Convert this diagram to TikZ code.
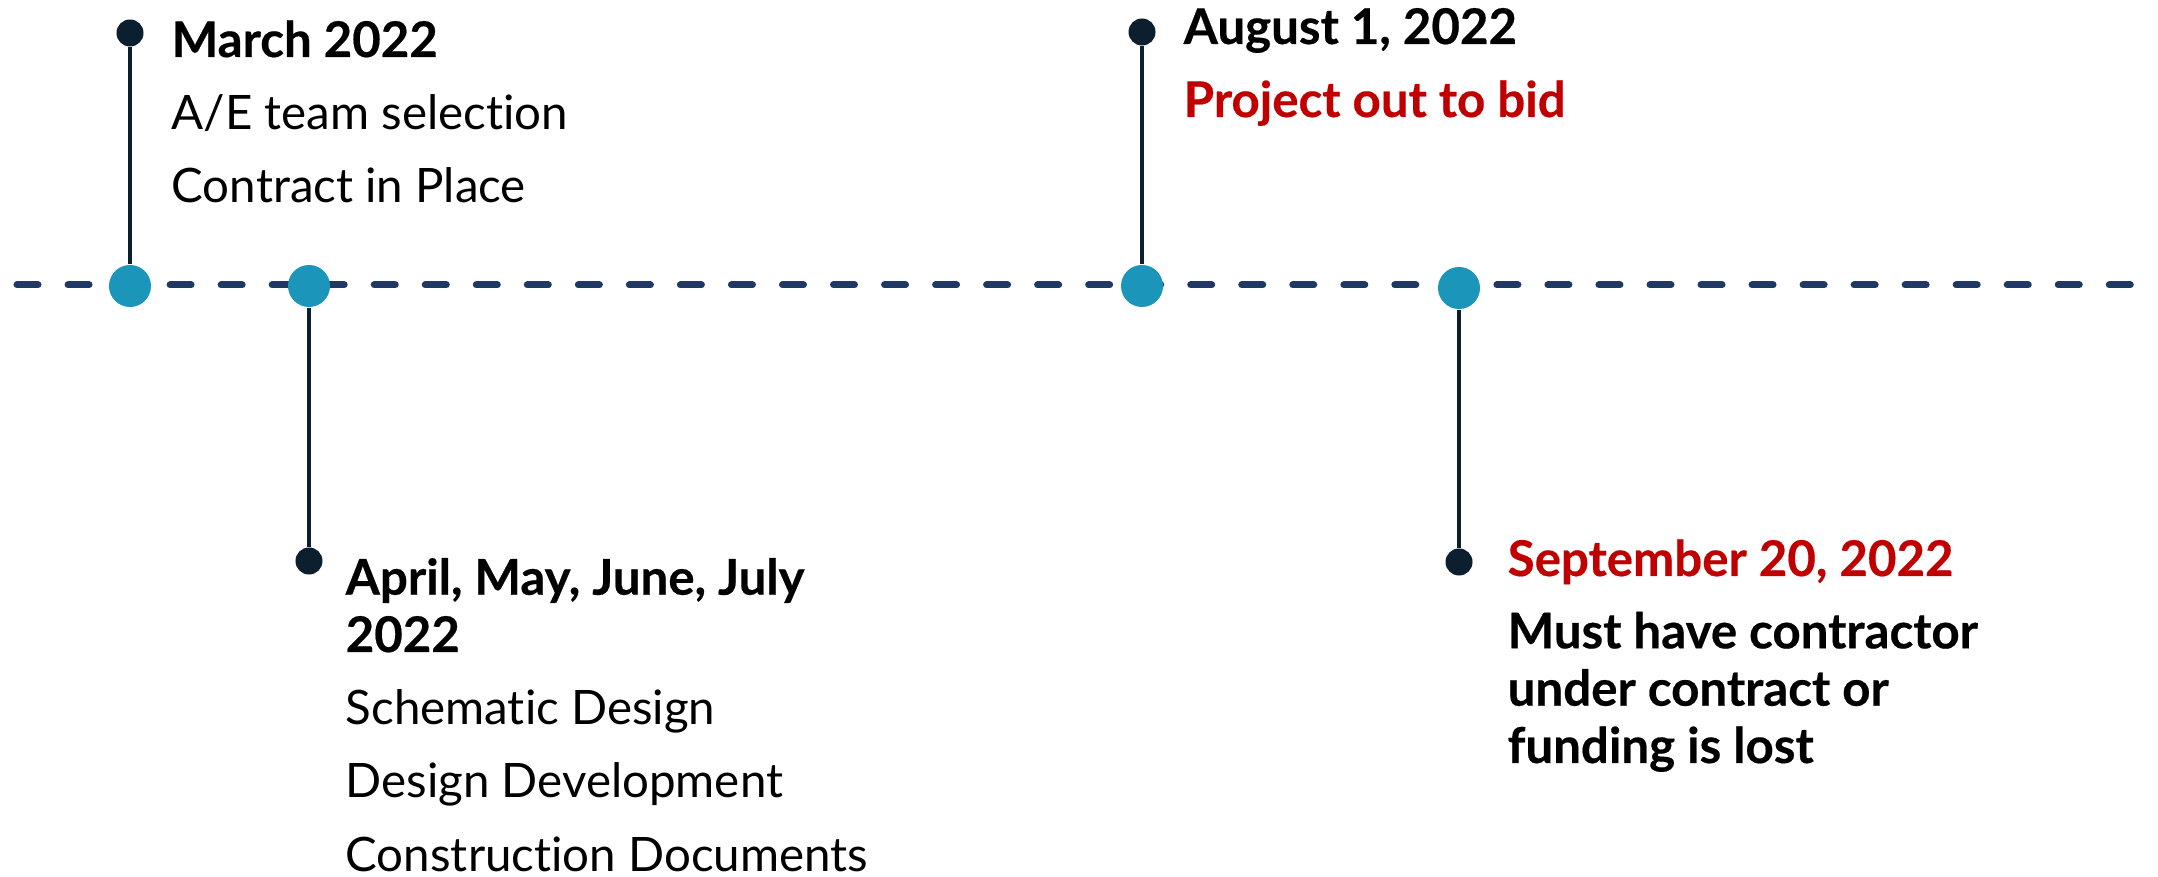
\documentclass[tikz,border=0pt]{standalone}
\usepackage{fontspec}
\setmainfont{Lato}[Ligatures=NoCommon, BoldFeatures={FakeBold=0.4}]
\usetikzlibrary{positioning}
\definecolor{tlnavy}{HTML}{1F3864}
\definecolor{tlteal}{HTML}{1B96BA}
\definecolor{tlink}{HTML}{0B1F2E}
\definecolor{tlred}{HTML}{C00000}
\tikzset{
  milestone/.style={
    circle,
    fill=tlteal,
    inner sep=0pt,
    minimum size=0.42cm
  },
  pin/.style={
    circle,
    fill=tlink,
    inner sep=0pt,
    minimum size=0.27cm
  },
  stem/.style={
    draw=tlink,
    line width=0.04cm
  },
  timeline/.style={
    draw=tlnavy,
    line width=0.07cm,
    line cap=round,
    dash pattern=on 0.21cm off 0.30cm
  },
  headtext/.style={
    anchor=base west,
    inner sep=0pt,
    align=left,
    font=\fontsize{14}{16.3}\selectfont\bfseries
  },
  bodytext/.style={
    anchor=base west,
    inner sep=0pt,
    align=left,
    font=\fontsize{13.5}{20.8}\selectfont
  }
}

\begin{document}
\begin{tikzpicture}[x=0.01cm, y=-0.01cm]
\useasboundingbox (0,0) rectangle (2158,877);
\coordinate (tlstart) at (17,285);
\coordinate (tlend) at (2158,285);
\draw[timeline] (tlstart) -- (tlend);
% milestones on the line
\node[milestone] (mar) at (130,286) {};
\node[milestone] (apr) at (309,286) {};
\node[milestone] (aug) at (1142,286) {};
\node[milestone] (sep) at (1459,288) {};
% pins at the end of the stems
\node[pin] (marpin) at (130,33) {};
\node[pin] (aprpin) at (309,561) {};
\node[pin] (augpin) at (1142,32) {};
\node[pin] (seppin) at (1459,562) {};
\foreach \a in {mar,apr,aug,sep} {
  \draw[stem] (\a pin) -- (\a);
}
% labels (multi-line ones sit on their last baseline)
\node[headtext] (marhead) at (171,57) {March 2022};
\node[bodytext] (marbody) at (171,203) {A/E team selection\\Contract in Place};
\node[headtext] (aughead) at (1183,44) {August 1, 2022};
\node[headtext, text=tlred] (augbody) at (1183,117) {Project out to bid};
\node[headtext] (aprhead) at (345,652) {April, May, June, July\\2022};
\node[bodytext] (aprbody) at (345,871) {Schematic Design\\Design Development\\Construction Documents};
\node[headtext, text=tlred] (sephead) at (1507,576) {September 20, 2022};
\node[headtext] (sepbody) at (1507,763) {Must have contractor\\under contract or\\funding is lost};
\end{tikzpicture}
\end{document}
